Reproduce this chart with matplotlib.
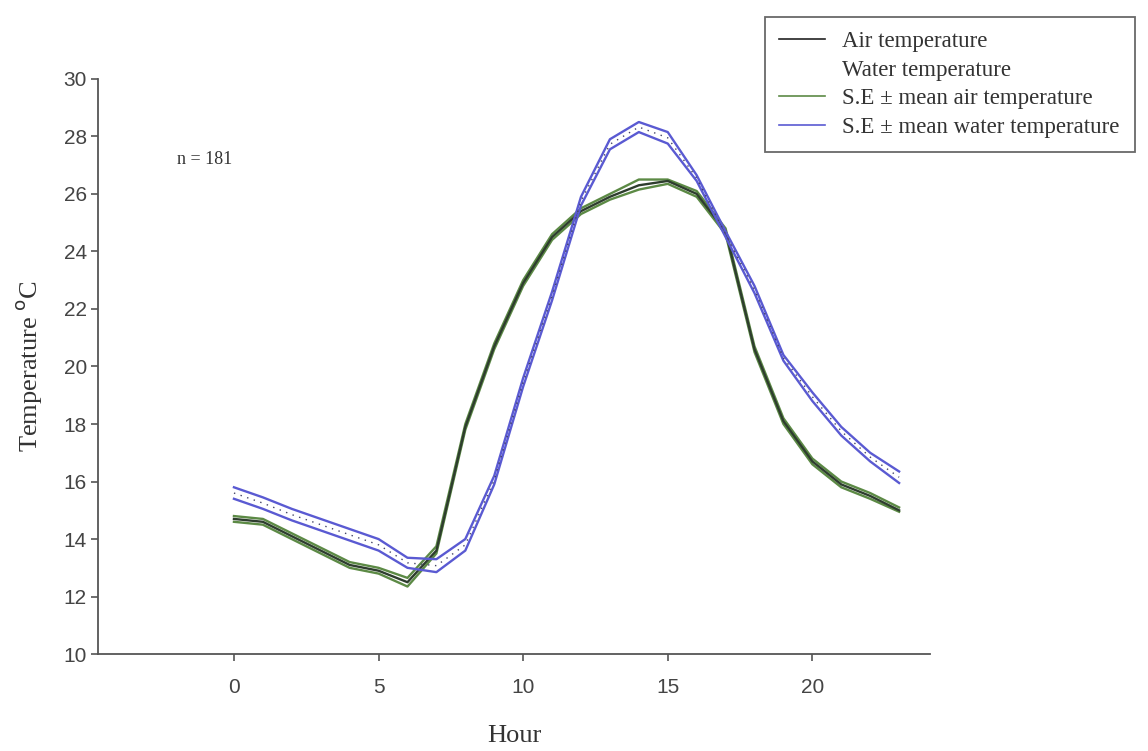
import matplotlib.pyplot as plt
from matplotlib.lines import Line2D
import numpy as np

hours = list(range(24))

air_mean = [14.7, 14.6, 14.1, 13.6, 13.1, 12.9, 12.5, 13.6, 17.9, 20.7, 22.9, 24.5,
            25.4, 25.9, 26.3, 26.45, 26.0, 24.7, 20.6, 18.1, 16.7, 15.9, 15.5, 15.0]
air_upper = [14.8, 14.7, 14.2, 13.7, 13.2, 13.0, 12.65, 13.75, 18.0, 20.8, 23.0, 24.6,
             25.5, 26.0, 26.5, 26.5, 26.1, 24.8, 20.7, 18.2, 16.8, 16.0, 15.6, 15.1]
air_lower = [14.6, 14.5, 14.0, 13.5, 13.0, 12.8, 12.35, 13.5, 17.8, 20.6, 22.8, 24.4,
             25.3, 25.8, 26.15, 26.35, 25.9, 24.6, 20.5, 18.0, 16.6, 15.8, 15.4, 14.95]

water_upper = [15.8, 15.45, 15.05, 14.7, 14.35, 14.0, 13.35, 13.3, 14.0, 16.2, 19.6, 22.6,
               25.9, 27.9, 28.5, 28.15, 26.65, 24.7, 22.8, 20.4, 19.1, 17.9, 17.0, 16.35]
water_lower = [15.4, 15.05, 14.65, 14.3, 13.95, 13.6, 13.0, 12.85, 13.6, 15.9, 19.3, 22.3,
               25.6, 27.55, 28.15, 27.75, 26.45, 24.5, 22.55, 20.2, 18.8, 17.6, 16.7, 15.95]
water_mean = list((np.array(water_upper) + np.array(water_lower)) / 2)

n_obs = 181

fig = plt.figure(figsize=(11.48, 7.51), dpi=100)
ax = fig.add_axes([0.0854, 0.129, 0.725, 0.766])

green = '#5c8a45'
blue = '#5a5ad2'
dark = '#2e3d2e'

ax.plot(hours, air_upper, color=green, lw=1.7)
ax.plot(hours, air_lower, color=green, lw=1.7)
ax.plot(hours, air_mean, color=dark, lw=1.7)
ax.plot(hours, water_upper, color=blue, lw=1.7)
ax.plot(hours, water_lower, color=blue, lw=1.7)
ax.plot(hours, water_mean, color='#444466', lw=1.0, ls=(0, (1, 4)))

ax.set_xlim(-4.7, 24.08)
ax.set_ylim(10, 30)
ax.set_xticks([0, 5, 10, 15, 20])
ax.set_yticks(range(10, 31, 2))
for s in ['top', 'right']:
    ax.spines[s].set_visible(False)
for s in ['left', 'bottom']:
    ax.spines[s].set_color('#555555')
    ax.spines[s].set_linewidth(1.3)
ax.tick_params(colors='#555555', labelcolor='#444444', labelsize=15,
               length=5, width=1.2)
for lab in ax.get_xticklabels() + ax.get_yticklabels():
    lab.set_family('Liberation Sans')
ax.tick_params(axis='x', pad=12)
ax.tick_params(axis='y', pad=3)

serif = 'Liberation Serif'
ax.set_xlabel('Hour', family=serif, fontsize=19, color='#333333', labelpad=20)
ax.set_ylabel('Temperature $^{\\mathrm{o}}$C', family=serif, fontsize=19,
              color='#333333', labelpad=14)
ax.text(-1.0, 27.2, 'n = %d' % n_obs, family=serif, fontsize=13,
        color='#333333', ha='center', va='center')

handles = [Line2D([], [], color='#222222', lw=1.2),
           Line2D([], [], color='none'),
           Line2D([], [], color=green, lw=1.2),
           Line2D([], [], color=blue, lw=1.2)]
labels = ['Air temperature', 'Water temperature',
          'S.E \u00b1 mean air temperature', 'S.E \u00b1 mean water temperature']
leg = fig.legend(handles, labels, loc='upper left', bbox_to_anchor=(0.666, 0.978),
                 borderaxespad=0, frameon=True, fancybox=False, edgecolor='#444444',
                 prop={'family': serif, 'size': 16.5}, handlelength=2.0,
                 labelspacing=0.32, borderpad=0.65, handletextpad=0.75)
leg.get_frame().set_linewidth(1.3)
for t in leg.get_texts():
    t.set_color('#333333')

fig.savefig('out.png', dpi=100)
